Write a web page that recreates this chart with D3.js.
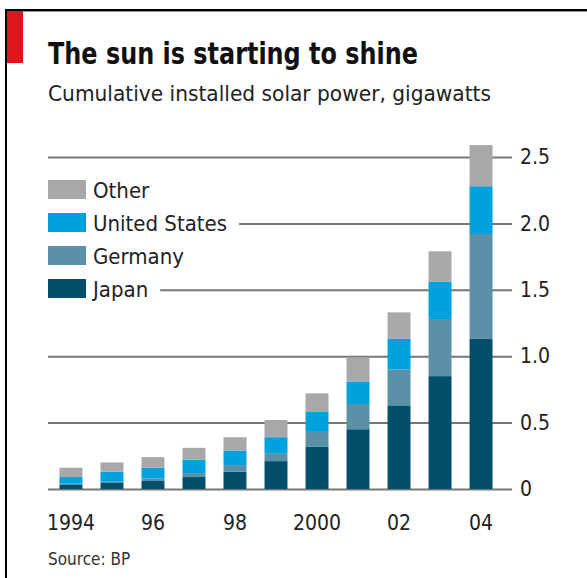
<!DOCTYPE html>
<html>
<head>
<meta charset="utf-8">
<script src="https://cdn.jsdelivr.net/npm/d3@7"></script>
<style>
    html, body { margin: 0; padding: 0; background: #fff; }
    svg { display: block; font-family: "Liberation Sans Narrow", "DejaVu Sans Condensed", sans-serif; }
</style>
</head>
<body>
<div id="chart"></div>
<script>
// data, gigawatts
var years = [1994, 1995, 1996, 1997, 1998, 1999, 2000, 2001, 2002, 2003, 2004];
var japan = [0.03, 0.045, 0.06, 0.09, 0.13, 0.21, 0.32, 0.45, 0.63, 0.85, 1.13];
var germany = [0.01, 0.01, 0.02, 0.03, 0.05, 0.06, 0.11, 0.19, 0.27, 0.43, 0.79];
var unitedStates = [0.05, 0.075, 0.08, 0.10, 0.11, 0.12, 0.15, 0.17, 0.23, 0.28, 0.36];
var other = [0.07, 0.07, 0.08, 0.09, 0.10, 0.13, 0.14, 0.18, 0.20, 0.23, 0.31];
var yTicks = [0, 0.5, 1, 1.5, 2, 2.5];
var xLabels = { 1994: "1994", 1996: "96", 1998: "98", 2000: "2000", 2002: "02", 2004: "04" };

var seriesKeys = ["japan", "germany", "unitedStates", "other"];
var seriesNames = { japan: "Japan", germany: "Germany", unitedStates: "United States", other: "Other" };
var colors = { japan: "#024f6b", germany: "#5b91a8", unitedStates: "#00a2dd", other: "#a8a8aa" };

var width = 587,
    height = 578;

var rows = years.map(function (yr, i) {
    return { year: yr, japan: japan[i], germany: germany[i], unitedStates: unitedStates[i], other: other[i] };
});

var svg = d3.select("#chart")
    .append("svg")
    .attr("width", width)
    .attr("height", height);

// frame + red tab
svg.append("rect").attr("x", 5).attr("y", 9).attr("width", width - 5).attr("height", 2).attr("fill", "#000");
svg.append("rect").attr("x", 5).attr("y", 11).attr("width", width - 5).attr("height", 1).attr("fill", "#999");
svg.append("rect").attr("x", 5).attr("y", 9).attr("width", 2).attr("height", height - 9).attr("fill", "#000");
svg.append("rect").attr("x", 7).attr("y", 11).attr("width", 16).attr("height", 52).attr("fill", "#e3131d");

svg.append("text")
    .attr("x", 48)
    .attr("y", 64)
    .attr("font-size", 31)
    .attr("font-weight", "bold")
    .attr("fill", "#111")
    .attr("textLength", 370)
    .attr("lengthAdjust", "spacingAndGlyphs")
    .text("The sun is starting to shine");

svg.append("text")
    .attr("x", 48)
    .attr("y", 101)
    .attr("font-size", 21)
    .attr("fill", "#222")
    .attr("textLength", 443)
    .attr("lengthAdjust", "spacingAndGlyphs")
    .text("Cumulative installed solar power, gigawatts");

var x = d3.scaleBand()
    .domain(years)
    .range([48, 504])
    .paddingInner(0.44)
    .paddingOuter(0.28);

var y = d3.scaleLinear()
    .domain([0, 2.5])
    .range([489, 157]);

// gridlines + right-hand labels
var yAxis = d3.axisRight(y)
    .tickValues(yTicks)
    .tickSize(464)
    .tickPadding(8)
    .tickFormat(function (d) { return d === 0 ? "0" : d3.format(".1f")(d); });

var gy = svg.append("g")
    .attr("transform", "translate(48,0)")
    .call(yAxis);
gy.select(".domain").remove();
gy.selectAll(".tick line").attr("stroke", "#777").attr("stroke-width", 2);
gy.selectAll(".tick text")
    .attr("font-family", "Liberation Sans Narrow, DejaVu Sans Condensed, sans-serif")
    .attr("font-size", 21)
    .attr("fill", "#222");

var stack = d3.stack().keys(seriesKeys);
var layers = stack(rows);

svg.append("g")
    .selectAll("g")
    .data(layers)
    .enter()
    .append("g")
    .attr("fill", function (d) { return colors[d.key]; })
    .selectAll("rect")
    .data(function (d) { return d; })
    .enter()
    .append("rect")
    .attr("x", function (d) { return x(d.data.year); })
    .attr("y", function (d) { return y(d[1]); })
    .attr("width", x.bandwidth())
    .attr("height", function (d) { return y(d[0]) - y(d[1]); });

// year labels
var xAxis = d3.axisBottom(x)
    .tickSize(0)
    .tickPadding(26)
    .tickFormat(function (d) { return xLabels[d] || ""; });

var gx = svg.append("g")
    .attr("transform", "translate(0," + y(0) + ")")
    .call(xAxis);
gx.select(".domain").remove();
gx.selectAll(".tick text")
    .attr("font-family", "Liberation Sans Narrow, DejaVu Sans Condensed, sans-serif")
    .attr("font-size", 21)
    .attr("fill", "#222");

// legend, top to bottom
var legendKeys = ["other", "unitedStates", "germany", "japan"];
var legend = svg.append("g")
    .selectAll("g")
    .data(legendKeys)
    .enter()
    .append("g")
    .attr("transform", function (d, i) { return "translate(48," + (180 + i * 33) + ")"; });

var bg = legend.append("rect").attr("fill", "#fff");

legend.append("rect")
    .attr("width", 38)
    .attr("height", 19)
    .attr("fill", function (d) { return colors[d]; });

legend.append("text")
    .attr("x", 45)
    .attr("y", 18)
    .attr("font-size", 22)
    .attr("fill", "#222")
    .text(function (d) { return seriesNames[d]; });

bg.each(function () {
    var t = d3.select(this.parentNode).select("text").node();
    var w = t.getComputedTextLength();
    d3.select(this)
        .attr("x", -2)
        .attr("y", -4)
        .attr("width", 45 + w + 14)
        .attr("height", 27);
});

svg.append("text")
    .attr("x", 48)
    .attr("y", 565)
    .attr("font-size", 17)
    .attr("fill", "#333")
    .text("Source: BP");
</script>
</body>
</html>
